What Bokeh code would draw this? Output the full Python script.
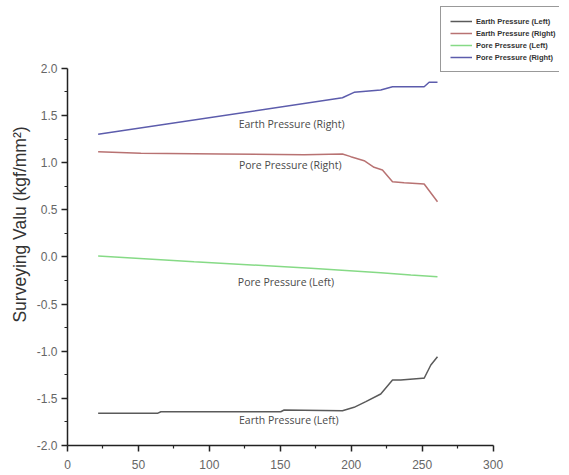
from bokeh.plotting import figure
from bokeh.models import Range1d, Legend, LegendItem, ColumnDataSource, FixedTicker, CustomJSTickFormatter
from bokeh.core.properties import value
from bokeh.embed import file_html
from bokeh.resources import INLINE

# Earth Pressure (Left)
epl_x = [21.6, 63.4, 65.8, 150.3, 152.7, 193.8, 202.0, 210.3, 220.8, 229.1, 234.9, 250.2, 251.4, 256.1, 260.8]
epl_y = [-1.659, -1.659, -1.642, -1.642, -1.624, -1.631, -1.595, -1.535, -1.454, -1.305, -1.305, -1.287, -1.287, -1.146, -1.058]

# Earth Pressure (Right)
epr_x = [21.6, 51.7, 108.1, 166.8, 193.8, 199.7, 209.1, 216.1, 222.0, 229.1, 237.3, 251.4, 260.8]
epr_y = [1.116, 1.099, 1.091, 1.084, 1.091, 1.063, 1.020, 0.950, 0.922, 0.797, 0.787, 0.773, 0.585]

# Pore Pressure (Left)
ppl_x = [21.6, 89.2, 171.5, 220.8, 242.0, 260.8]
ppl_y = [0.010, -0.051, -0.121, -0.168, -0.192, -0.210]

# Pore Pressure (Right)
ppr_x = [21.6, 193.8, 202.0, 220.8, 229.1, 251.4, 254.9, 260.8]
ppr_y = [1.300, 1.688, 1.745, 1.770, 1.805, 1.805, 1.852, 1.852]

series_names = ["Earth Pressure (Left)", "Earth Pressure (Right)", "Pore Pressure (Left)", "Pore Pressure (Right)"]
series_colors = ["#5a5a5a", "#b87272", "#86da86", "#5c5cac"]

# in-plot annotations
ann_text = ["Earth Pressure (Right)", "Pore Pressure (Right)", "Pore Pressure (Left)", "Earth Pressure (Left)"]
ann_x = [158, 157, 154, 156]
ann_y = [1.41, 0.975, -0.263, -1.73]

x_ticks = [0, 50, 100, 150, 200, 250, 300]
x_minor = [25, 75, 125, 175, 225, 275]
y_ticks = [-2.0, -1.5, -1.0, -0.5, 0.0, 0.5, 1.0, 1.5, 2.0]
y_minor = [-1.75, -1.25, -0.75, -0.25, 0.25, 0.75, 1.25, 1.75]

# frame extends beyond the axis bounds so that the legend (above the axes) is not clipped
W, H = 561, 472
BL, BT, BR, BB = 67, 3, 2, 27
frame_w = W - BL - BR
frame_h = H - BT - BB
px_per_x = 425.6 / 300.0
px_per_y = 377.2 / 4.0
x_end = frame_w / px_per_x
y_end = -2 + frame_h / px_per_y

p = figure(width=W, height=H, output_backend="svg", toolbar_location=None,
           x_range=Range1d(0, x_end), y_range=Range1d(-2, y_end),
           min_border_left=BL, min_border_right=BR, min_border_top=BT, min_border_bottom=BB)
p.outline_line_color = None
p.grid.visible = False
p.background_fill_color = "white"
p.border_fill_color = "white"

p.xaxis.ticker = FixedTicker(ticks=x_ticks, minor_ticks=x_minor)
p.yaxis.ticker = FixedTicker(ticks=y_ticks, minor_ticks=y_minor)
p.yaxis.formatter = CustomJSTickFormatter(code="return tick.toFixed(1);")
p.xaxis.bounds = (x_ticks[0], x_ticks[-1])
p.yaxis.bounds = (y_ticks[0], y_ticks[-1])

for ax in (p.xaxis[0], p.yaxis[0]):
    ax.axis_line_color = "#222222"
    ax.axis_line_width = 1.5
    ax.major_tick_line_color = "#222222"
    ax.minor_tick_line_color = "#222222"
    ax.major_tick_line_width = 1.5
    ax.minor_tick_line_width = 1.2
    ax.major_tick_out = 6
    ax.major_tick_in = 0
    ax.minor_tick_out = 3
    ax.minor_tick_in = 0
    ax.major_label_text_font = "Liberation Sans"
    ax.major_label_text_font_size = "12px"
    ax.major_label_text_color = "#666666"
p.yaxis.major_label_standoff = 4
p.xaxis.major_label_standoff = 8

p.yaxis.axis_label = "Surveying Valu (kgf/mm\u00b2)"
p.yaxis.axis_label_text_font = "Liberation Sans"
p.yaxis.axis_label_text_font_size = "17.5px"
p.yaxis.axis_label_text_font_style = "normal"
p.yaxis.axis_label_text_color = "#333333"
p.yaxis.axis_label_standoff = 4

data = [(epl_x, epl_y), (epr_x, epr_y), (ppl_x, ppl_y), (ppr_x, ppr_y)]
renderers = []
for (xs, ys), c in zip(data, series_colors):
    r = p.line(xs, ys, line_color=c, line_width=1.5)
    renderers.append(r)

src = ColumnDataSource(dict(x=ann_x, y=ann_y, t=ann_text))
p.text(x="x", y="y", text="t", source=src, text_align="center", text_baseline="middle",
       text_font=value("Open Sans"), text_font_size="10.5px", text_color="#4a4a4a")

legend = Legend(items=[LegendItem(label=n, renderers=[r]) for n, r in zip(series_names, renderers)],
                location=(373, 373))
legend.label_text_font = "Liberation Sans"
legend.label_text_font_size = "7.5px"
legend.label_text_font_style = "bold"
legend.label_text_color = "#333333"
legend.glyph_width = 22
legend.glyph_height = 10
legend.label_height = 10
legend.label_standoff = 4
legend.spacing = 2
legend.padding = 9
legend.margin = 0
legend.border_line_color = "#333333"
legend.border_line_width = 1
legend.background_fill_alpha = 1
p.add_layout(legend, "center")

open("out.html", "w").write(file_html(p, INLINE))
